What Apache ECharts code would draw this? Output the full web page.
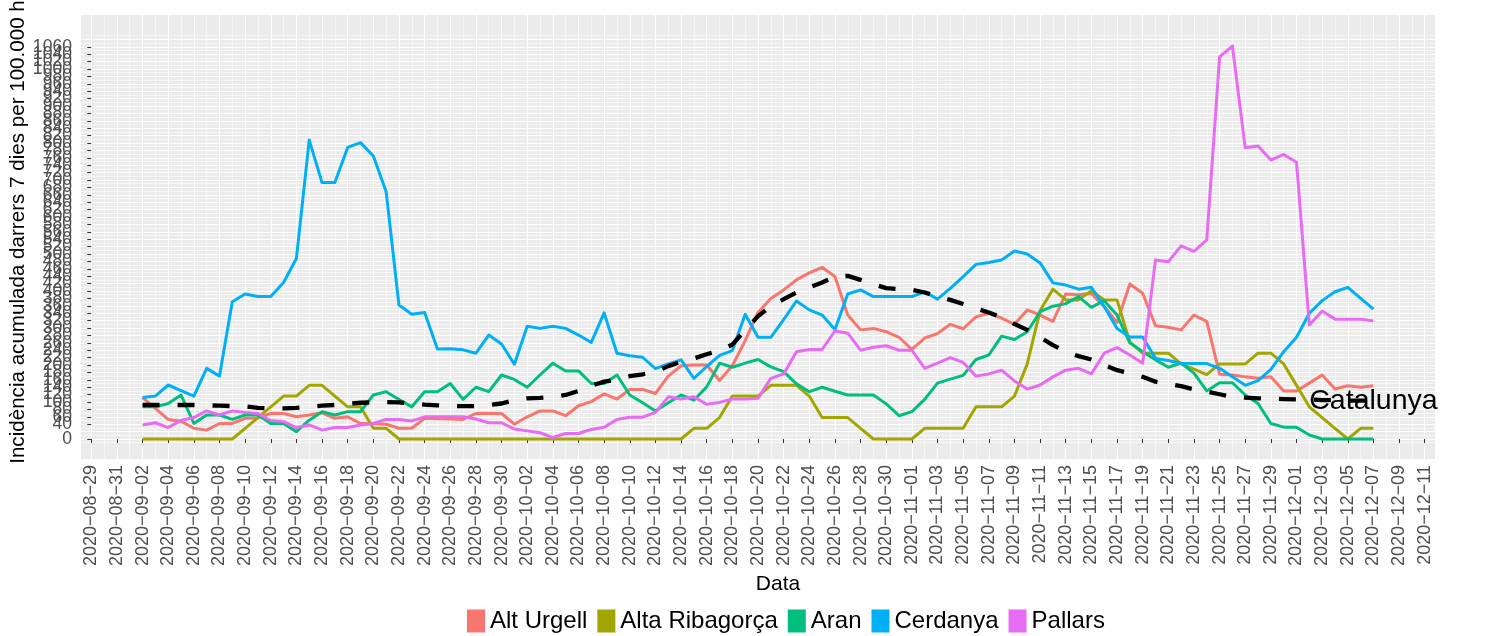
<!DOCTYPE html>
<html>
<head>
<meta charset="utf-8">
<title>Incidència acumulada</title>
<script src="https://cdn.jsdelivr.net/npm/echarts@6/dist/echarts.min.js"></script>
<style>
  html, body { margin: 0; padding: 0; background: #fff; }
  #chart { width: 1494px; height: 636px; }
</style>
</head>
<body>
<div id="chart"></div>
<script>
// daily values, 2020-09-02 .. 2020-12-07
const startDate = '2020-09-02';
const regionNames = ['Alt Urgell', 'Alta Ribagorça', 'Aran', 'Cerdanya', 'Pallars'];

const altUrgell = [
  112, 83, 53, 48, 29, 24, 42, 42, 56, 57, 69, 69, 60, 65, 71, 56, 60, 42, 42, 40, 29, 29, 56, 55, 54,
  53, 69, 69, 69, 40, 60, 76, 76, 63, 90, 101, 122, 108, 134, 134, 123, 170, 198, 200, 200, 158, 198, 266, 342,
  380, 403, 430, 449, 464, 439, 335, 295, 299, 290, 275, 242, 273, 285, 310, 298, 330, 340, 327, 310, 349, 335, 318, 392,
  390, 393, 358, 315, 419, 394, 306, 302, 295, 335, 318, 175, 173, 168, 164, 168, 130, 130, 151, 173, 135, 144, 140, 144
];
const altaRibagorca = [
  0, 0, 0, 0, 0, 0, 0, 0, 29, 58, 87, 116, 116, 145, 145, 116, 87, 87, 29, 29, 0, 0, 0, 0, 0,
  0, 0, 0, 0, 0, 0, 0, 0, 0, 0, 0, 0, 0, 0, 0, 0, 0, 0, 29, 29, 58, 116, 116, 116,
  145, 145, 145, 116, 58, 58, 58, 29, 0, 0, 0, 0, 29, 29, 29, 29, 87, 87, 87, 116, 203, 347, 405, 376,
  376, 401, 376, 376, 262, 232, 232, 232, 203, 189, 174, 203, 203, 203, 232, 232, 203, 145, 87, 58, 29, 0, 29, 29
];
const aran = [
  87, 87, 96, 119, 42, 65, 65, 53, 65, 65, 42, 42, 20, 51, 74, 65, 74, 74, 119, 128, 107, 87, 128, 128, 150,
  107, 140, 128, 173, 161, 140, 173, 205, 184, 184, 150, 150, 173, 119, 98, 76, 98, 119, 105, 141, 205, 194, 205, 215,
  195, 182, 149, 128, 140, 129, 119, 119, 119, 95, 63, 74, 107, 151, 162, 172, 215, 227, 278, 269, 290, 344, 359, 366,
  385, 356, 374, 335, 260, 236, 214, 194, 205, 178, 130, 152, 152, 119, 96, 42, 32, 32, 11, 0, 0, 0, 0, 0
];
const cerdanya = [
  112, 116, 146, 131, 116, 191, 170, 371, 392, 385, 385, 423, 488, 808, 693, 693, 788, 801, 765, 668, 362, 337, 342, 243, 244,
  241, 232, 281, 257, 202, 305, 299, 305, 299, 281, 261, 341, 232, 225, 221, 190, 203, 214, 164, 196, 226, 239, 337, 275,
  275, 323, 373, 349, 335, 296, 392, 403, 385, 385, 385, 385, 398, 378, 407, 439, 472, 477, 484, 508, 500, 476, 422, 416,
  405, 410, 358, 299, 276, 276, 218, 212, 205, 204, 204, 191, 168, 145, 158, 188, 236, 275, 340, 374, 398, 410, 380, 351
];
const pallars = [
  38, 44, 31, 50, 58, 76, 65, 76, 72, 69, 50, 47, 31, 38, 24, 31, 31, 38, 42, 53, 53, 49, 60, 60, 60,
  60, 54, 44, 44, 27, 22, 17, 4, 15, 15, 26, 32, 53, 59, 59, 72, 114, 108, 114, 94, 99, 108, 108, 110,
  164, 176, 236, 242, 242, 292, 286, 240, 248, 252, 240, 240, 191, 205, 220, 207, 170, 176, 186, 157, 135, 146, 168, 186,
  191, 176, 232, 247, 227, 205, 484, 479, 522, 507, 538, 1033, 1062, 787, 792, 754, 769, 748, 308, 346, 324, 324, 324, 319
];
const catalunya = [
  92, 92, 92, 92, 92, 91, 90, 89, 88, 84, 83, 83, 84, 87, 90, 92, 95, 98, 99, 100, 99, 96, 93, 91, 89,
  89, 89, 92, 96, 105, 110, 111, 114, 119, 130, 144, 155, 161, 170, 175, 182, 197, 209, 218, 229, 240, 255, 295, 332,
  359, 378, 396, 410, 423, 439, 441, 430, 418, 408, 405, 403, 396, 385, 376, 365, 353, 342, 329, 311, 295, 275, 254, 236,
  224, 215, 200, 186, 178, 168, 155, 149, 143, 134, 128, 121, 114, 112, 110, 109, 108, 107, 107, 105, 105, 104, 104, 103
];

const regionValues = [altUrgell, altaRibagorca, aran, cerdanya, pallars];
const regionColors = ['#F8766D', '#A3A500', '#00BF7D', '#00B0F6', '#E76BF3'];

// x axis counts days from 2020-08-29 (first tick label)
const axisStart = '2020-08-29';
const DAY = 86400000;
const t0 = Date.parse(axisStart + 'T00:00:00Z');
const offset = Math.round((Date.parse(startDate + 'T00:00:00Z') - t0) / DAY);

const xMajor = [];
for (let d = 0; d <= 104; d += 2) xMajor.push(d);
const xMinor = [];
for (let d = 1; d <= 103; d += 2) xMinor.push(d);
const yMajor = [];
for (let v = 0; v <= 1080; v += 20) yMajor.push(v);
const yMinor = [];
for (let v = -10; v <= 1090; v += 20) yMinor.push(v);

const pad = n => (n < 10 ? '0' : '') + n;
const dayLabel = v => {
  const d = new Date(t0 + Math.round(v) * DAY);
  return d.getUTCFullYear() + '\u2212' + pad(d.getUTCMonth() + 1) + '\u2212' + pad(d.getUTCDate());
};
const toPoints = vals => vals.map((v, i) => [i + offset, v]);

const FONT = '"Liberation Sans", Arial, sans-serif';
const X_MIN = -0.8, X_MAX = 104.8, Y_MIN = -54, Y_MAX = 1146;

const chart = echarts.init(document.getElementById('chart'), null, { renderer: 'canvas' });

const series = regionNames.map((name, i) => ({
  type: 'line',
  name: name,
  data: toPoints(regionValues[i]),
  symbol: 'none',
  showSymbol: false,
  itemStyle: { color: regionColors[i] },
  lineStyle: { color: regionColors[i], width: 3, join: 'round' },
  z: 2
}));

series.push({
  type: 'line',
  name: 'Catalunya',
  data: toPoints(catalunya),
  symbol: 'none',
  showSymbol: false,
  lineStyle: { color: '#000', width: 4.3, type: [17, 18], cap: 'butt', join: 'round' },
  itemStyle: { color: '#000' },
  endLabel: {
    show: true,
    formatter: 'Catalunya',
    distance: 0,
    align: 'center',
    verticalAlign: 'middle',
    color: '#000',
    fontSize: 28.5,
    fontFamily: FONT
  },
  z: 3
});

chart.setOption({
  animation: false,
  backgroundColor: '#fff',
  textStyle: { fontFamily: FONT },
  grid: {
    left: 81, right: 59, top: 15, bottom: 177,
    outerBoundsMode: 'none', containLabel: false,
    show: true, backgroundColor: '#EBEBEB', borderWidth: 0
  },
  legend: {
    data: regionNames,
    left: 467, top: 609, padding: 0,
    icon: 'rect', itemWidth: 18, itemHeight: 23, itemGap: 10,
    textStyle: { fontSize: 24, color: '#000', fontFamily: FONT }
  },
  xAxis: [{
    type: 'value', min: X_MIN, max: X_MAX,
    axisLine: { show: false },
    axisTick: { show: true, customValues: xMajor, length: 4, lineStyle: { color: '#333' } },
    axisLabel: {
      customValues: xMajor, formatter: dayLabel, rotate: 90, margin: 6,
      color: '#4D4D4D', fontSize: 18, fontFamily: FONT
    },
    splitLine: { show: true, lineStyle: { color: '#fff', width: 1.1 } },
    name: 'Data', nameLocation: 'middle', nameGap: 106,
    nameTextStyle: { fontSize: 21, color: '#000', fontFamily: FONT, padding: [0, 0, 0, 40] }
  }, {
    type: 'value', min: X_MIN, max: X_MAX, position: 'top',
    axisLine: { show: false },
    axisTick: { show: false, customValues: xMinor },
    axisLabel: { show: false },
    splitLine: { show: true, lineStyle: { color: '#fff', width: 0.55 } }
  }],
  yAxis: [{
    type: 'value', min: Y_MIN, max: Y_MAX,
    axisLine: { show: false },
    axisTick: { show: true, customValues: yMajor, length: 4, lineStyle: { color: '#333' } },
    axisLabel: {
      customValues: yMajor, formatter: v => String(v), showMinLabel: true, hideOverlap: false,
      margin: 9, color: '#4D4D4D', fontSize: 17.6, fontFamily: FONT
    },
    splitLine: { show: true, lineStyle: { color: '#fff', width: 1.1 } },
    name: 'Incidència acumulada darrers 7 dies per 100.000 h',
    nameLocation: 'middle', nameGap: 52, nameMoveOverlap: false,
    nameTextStyle: { fontSize: 20.6, color: '#000', fontFamily: FONT, padding: [0, 0, 0, 10] }
  }, {
    type: 'value', min: Y_MIN, max: Y_MAX, position: 'right',
    axisLine: { show: false },
    axisTick: { show: false, customValues: yMinor },
    axisLabel: { show: false },
    splitLine: { show: true, lineStyle: { color: '#fff', width: 0.55 } }
  }],
  series: series
});

window.addEventListener('resize', () => chart.resize());
</script>
</body>
</html>
